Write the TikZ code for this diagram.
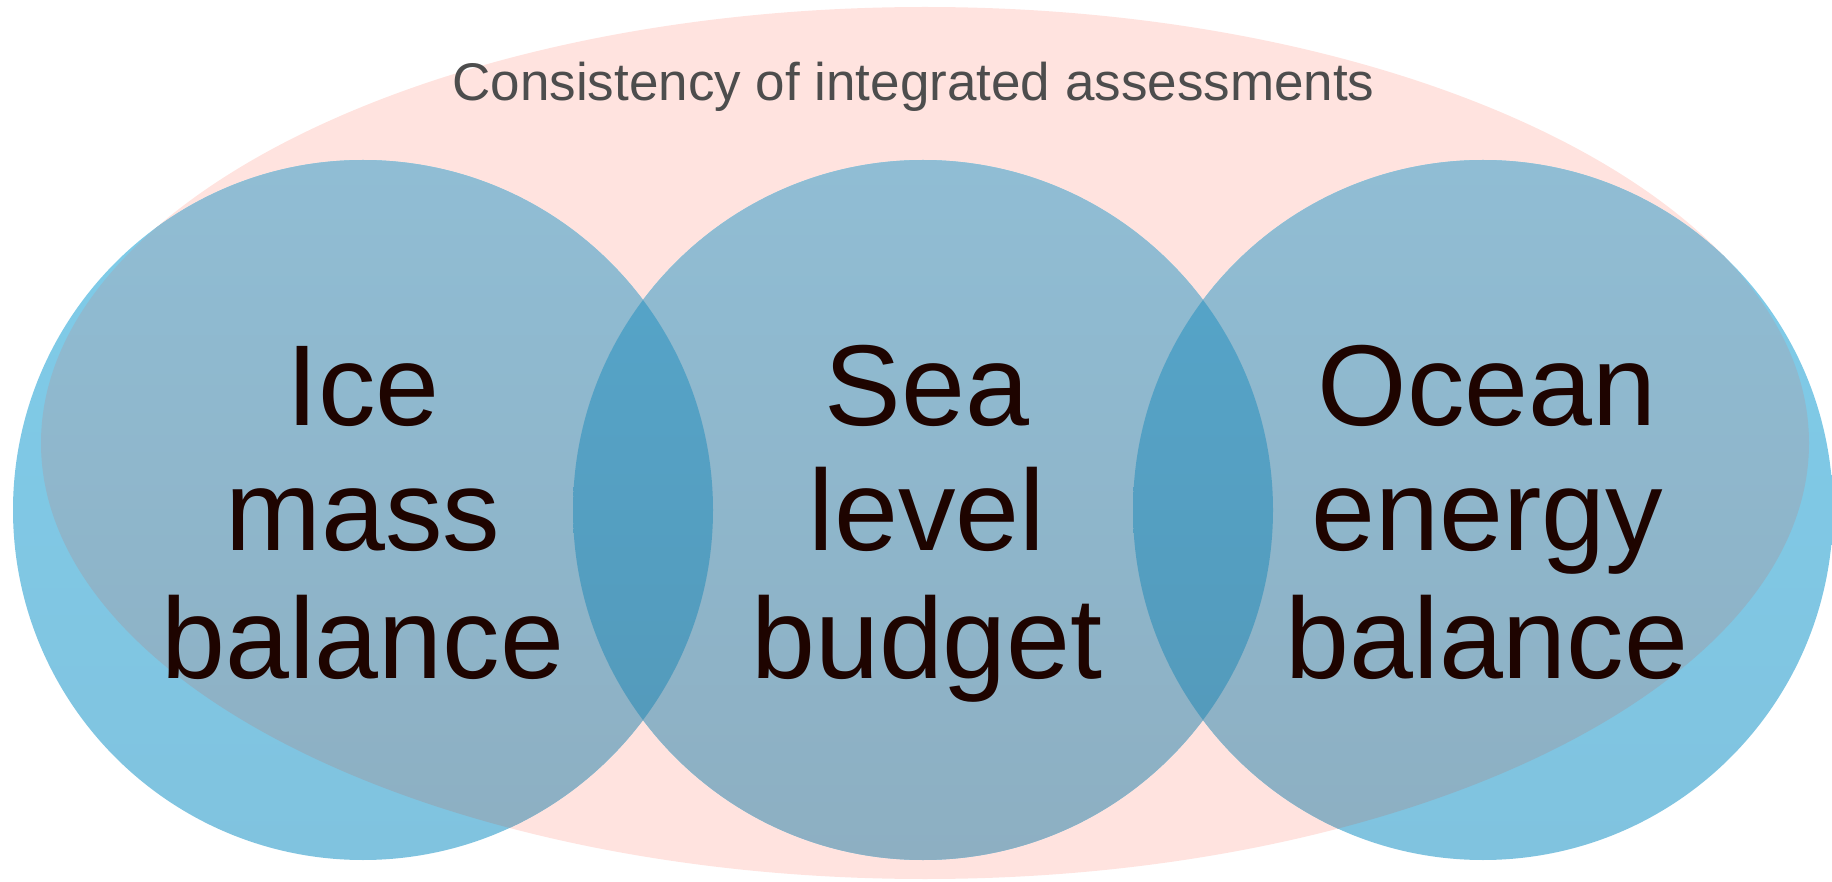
\documentclass[tikz,border=0pt]{standalone}
\usepackage{fontspec}
\setmainfont{Liberation Sans}
\definecolor{pinkc}{HTML}{FFE3DF}
\definecolor{cyanTop}{HTML}{7FCCE9}
\definecolor{cyanBot}{HTML}{80C3DF}
\definecolor{greyTop}{HTML}{90BDD4}
\definecolor{greyBot}{HTML}{8DAFC2}
\definecolor{lensTop}{HTML}{56A6CB}
\definecolor{lensBot}{HTML}{5398B8}
\definecolor{labelc}{HTML}{1E0400}
\definecolor{titlec}{HTML}{4D4D4D}
\tikzset{
  bigtext/.style={text=labelc, inner sep=0pt, anchor=base, font=\fontsize{115}{126}\selectfont},
  titletext/.style={text=titlec, inner sep=0pt, anchor=base, font=\fontsize{53}{60}\selectfont},
  outerpart/.style={top color=cyanTop, bottom color=cyanBot},
  innerpart/.style={top color=greyTop, bottom color=greyBot},
  lenspart/.style={top color=lensTop, bottom color=lensBot}
}
\begin{document}
\begin{tikzpicture}[x=1pt,y=-1pt]
\useasboundingbox (0,0) rectangle (1832,882);
\coordinate (cE) at (925,443);
\coordinate (cA) at (363,510);
\coordinate (cB) at (923,510);
\coordinate (cC) at (1483,510);
% pink ellipse
\fill[pinkc] (cE) ellipse [x radius=884, y radius=436];
% circles outside ellipse
\foreach \c in {cA,cB,cC} \shade[outerpart] (\c) circle [radius=350];
% circles inside ellipse
\begin{scope}
  \clip (cE) ellipse [x radius=884, y radius=436];
  \foreach \c in {cA,cB,cC} \shade[innerpart] (\c) circle [radius=350];
\end{scope}
% overlaps
\begin{scope}
  \clip (cA) circle [radius=350];
  \shade[lenspart] (cB) circle [radius=350];
\end{scope}
\begin{scope}
  \clip (cC) circle [radius=350];
  \shade[lenspart] (cB) circle [radius=350];
\end{scope}
% title
\node[titletext] (title) at (913.5,101) {Consistency of integrated assessments};
% labels
\node[bigtext] (ice1) at (363,426) {Ice};
\node[bigtext] (ice2) at (363,550) {mass};
\node[bigtext] (ice3) at (363,678) {balance};
\node[bigtext] (sea1) at (927,426) {Sea};
\node[bigtext] (sea2) at (927,550) {level};
\node[bigtext] (sea3) at (927,678) {budget};
\node[bigtext] (oce1) at (1487,426) {Ocean};
\node[bigtext] (oce2) at (1487,550) {energy};
\node[bigtext] (oce3) at (1487,678) {balance};
\end{tikzpicture}
\end{document}
